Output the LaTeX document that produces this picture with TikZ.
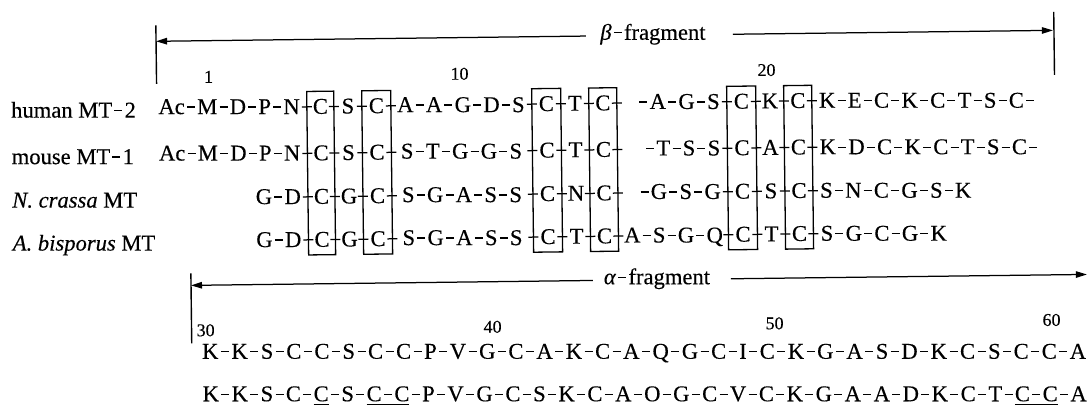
\documentclass[tikz,border=0pt]{standalone}
\usepackage{fontspec}
\setmainfont{Liberation Serif}
\newfontfamily\seqfam{Liberation Serif}[FakeBold=0.3]
\usetikzlibrary{arrows.meta}
\newlength\sqk
\setlength\sqk{2.2pt}
\newcommand\sq{\kern\sqk\rule[6.4pt]{8pt}{1.25pt}\kern\sqk}
\newcommand\ulc[1]{\setbox0\hbox{#1}\rlap{\rule[-4.2pt]{\wd0}{1.2pt}}\box0}
\newcommand\seqfnt{\seqfam\fontsize{22.6}{26}\selectfont}
\newcommand\numfnt{\seqfam\fontsize{18}{21}\selectfont}
\begin{document}
\begin{tikzpicture}[x=1pt,y=-1pt,
  seq/.style={font=\seqfnt,inner sep=0pt,anchor=base},
  num/.style={font=\numfnt,inner sep=0pt,anchor=base},
  cbox/.style={draw,line width=1.3pt},
  xdash/.style={line width=1.25pt},
  tick/.style={line width=1.4pt},
  arr/.style={line width=1.25pt,-{Triangle[length=11pt,width=6.5pt]}},
  frag/.style={font=\seqfnt,inner sep=0pt,anchor=center}
]
\useasboundingbox (0,0) rectangle (1088,405);
\begin{scope}[rotate around={0.7:(550,200)}]

% ---- beta fragment arrow
\coordinate (bL) at (158,36.5);
\coordinate (bLe) at (588,36.5);
\coordinate (bRs) at (735,36.5);
\coordinate (bR) at (1055,36.5);
\node[frag] (blab) at (655,35.5) {\textit{β}\sq fragment};
\draw[arr] (bLe) -- (bL);
\draw[arr] (bRs) -- (bR);
\draw[tick] (158,20.5) -- (158,79);
\draw[tick] (1056,18) -- (1056,81);

% ---- row labels
\node[seq,anchor=base west] (lh) at (12,111) {human MT\sq 2};
\node[seq,anchor=base west] (lm) at (12,157.5) {mouse MT\sq 1};
\node[seq,anchor=base west] (ln) at (12,201) {\textit{N.\ crassa} MT};
\node[seq,anchor=base west] (la) at (12,244) {\textit{A.\ bisporus} MT};

% ---- residue numbers
\node[num] (n1) at (210,78.6) {1};
\node[num] (n10) at (461,78.6) {10};
\node[num] (n20) at (768,78.6) {20};

% ---- cysteine boxes
\foreach \l/\r in {308/335, 363/392, 533/562, 590/618, 728/757, 785/813}
  \draw[cbox] (\l,88.5) rectangle (\r,252);

% ---- dashes crossing the box edges
\foreach \y in {103.9,150.4,193.9,236.9}
  \foreach \e in {308,335,363,392,533,562,590,618,728,757,785,813}
    \draw[xdash] (\e-5,\y) -- (\e+5,\y);

% ---- boxed C's
\foreach \y/\k in {111/1,157.5/2,201/3,244/4}
  \foreach \x/\j in {321.5/a,377.5/b,547.5/c,604/d,742.5/e,799/f}
    \node[seq] (c\k\j) at (\x,\y) {C};

% ---- row 1 : human MT-2
\node[seq,anchor=base east] (h1) at (301,111) {Ac\sq M\sq D\sq P\sq N};
\node[seq] (h2) at (349,111) {S};
\node[seq] (h3) at (462,111) {A\sq A\sq G\sq D\sq S};
\node[seq] (h4) at (576,111) {T};
\node[seq,anchor=base east] (h5) at (721,111) {\sq A\sq G\sq S};
\node[seq] (h6) at (771,111) {K};
\node[seq,anchor=base west] (h7) at (820,111) {K\sq E\sq C\sq K\sq C\sq T\sq S\sq C\sq};

% ---- row 2 : mouse MT-1
\node[seq,anchor=base east] (m1) at (301,157.5) {Ac\sq M\sq D\sq P\sq N};
\node[seq] (m2) at (349,157.5) {S};
\node[seq] (m3) at (462,157.5) {S\sq T\sq G\sq G\sq S};
\node[seq] (m4) at (576,157.5) {T};
\node[seq,anchor=base east] (m5) at (721,157.5) {\sq T\sq S\sq S};
\node[seq] (m6) at (771,157.5) {A};
\node[seq,anchor=base west] (m7) at (820,157.5) {K\sq D\sq C\sq K\sq C\sq T\sq S\sq C\sq};

% ---- row 3 : N. crassa MT
\node[seq,anchor=base east] (nc1) at (301,201) {G\sq D};
\node[seq] (nc2) at (349,201) {G};
\node[seq] (nc3) at (462,201) {S\sq G\sq A\sq S\sq S};
\node[seq] (nc4) at (576,201) {N};
\node[seq,anchor=base east] (nc5) at (721,201) {\sq G\sq S\sq G};
\node[seq] (nc6) at (771,201) {S};
\node[seq,anchor=base west] (nc7) at (820,201) {S\sq N\sq C\sq G\sq S\sq K};

% ---- row 4 : A. bisporus MT
\node[seq,anchor=base east] (ab1) at (301,244) {G\sq D};
\node[seq] (ab2) at (349,244) {G};
\node[seq] (ab3) at (462,244) {S\sq G\sq A\sq S\sq S};
\node[seq] (ab4) at (576,244) {T};
\node[seq] (ab5) at (673,244) {A\sq S\sq G\sq Q};
\node[seq] (ab6) at (771,244) {T};
\node[seq,anchor=base west] (ab7) at (820,244) {S\sq G\sq C\sq G\sq K};

% ---- alpha fragment arrow
\coordinate (aL) at (190,281);
\coordinate (aLe) at (592,281);
\coordinate (aRs) at (730,281);
\coordinate (aR) at (1086,281);
\node[frag] (alab) at (656,280) {\textit{α}\sq fragment};
\draw[arr] (aLe) -- (aL);
\draw[arr] (aRs) -- (aR);
\draw[tick] (190,269) -- (190,339);

% ---- alpha numbers
\node[num] (n30) at (204,332) {30};
\node[num] (n40) at (491,332) {40};
\node[num] (n50) at (773,332) {50};
\node[num] (n60) at (1050,332) {60};

% ---- alpha rows
\node[seq,anchor=base west] (ar1) at (200,354.5) {\setlength\sqk{2.5pt}K\sq K\sq S\sq C\sq C\sq S\sq C\sq C\sq P\sq V\sq G\sq C\sq A\sq K\sq C\sq A\sq Q\sq G\sq C\sq I\sq C\sq K\sq G\sq A\sq S\sq D\sq K\sq C\sq S\sq C\sq C\sq A};
\node[seq,anchor=base west] (ar2) at (200,397) {\setlength\sqk{2.34pt}K\sq K\sq S\sq C\sq \ulc{C}\sq S\sq \ulc{C\sq C}\sq P\sq V\sq G\sq C\sq S\sq K\sq C\sq A\sq O\sq G\sq C\sq V\sq C\sq K\sq G\sq A\sq A\sq D\sq K\sq C\sq T\sq \ulc{C\sq C}\sq A};
\end{scope}
\end{tikzpicture}
\end{document}
